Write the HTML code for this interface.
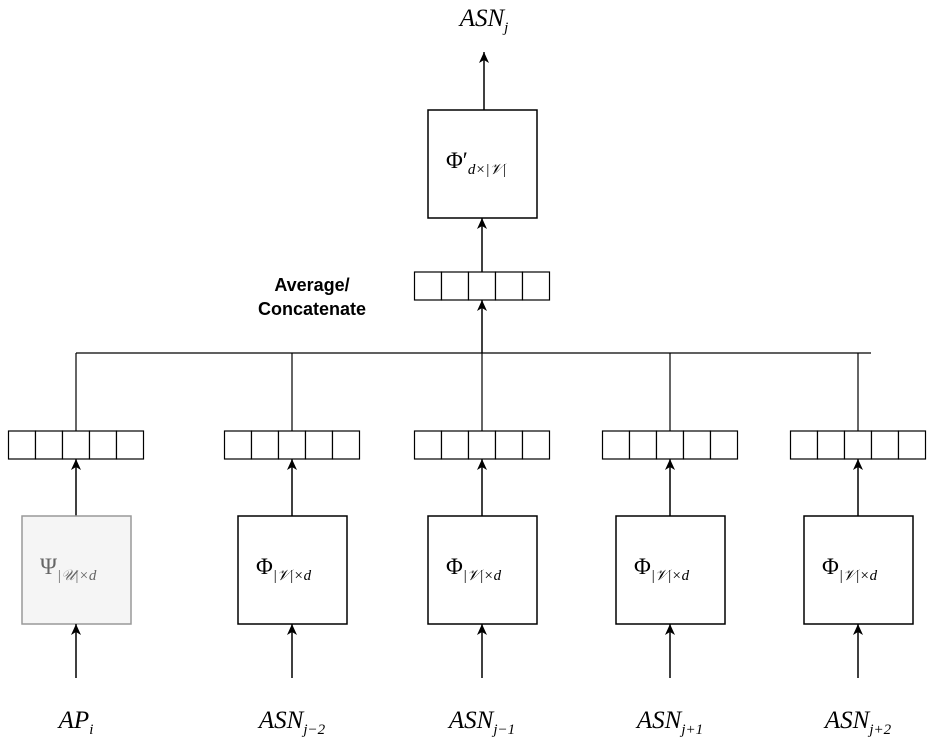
<!DOCTYPE html>
<html><head><meta charset="utf-8"><style>
body{margin:0;background:#fff}
svg{display:block}
.m{font-family:"Liberation Serif",serif;font-style:italic;font-size:25px}
.g{font-family:"Liberation Serif",serif;font-size:23px}
.s{font-family:"Liberation Serif",serif;font-style:italic;font-size:15px}
</style></head><body>
<svg id="d" width="939" height="745" viewBox="0 0 939 745">
<defs><marker id="ah" markerWidth="12" markerHeight="12" refX="11" refY="5" orient="auto" markerUnits="userSpaceOnUse"><path d="M0,0 L11,5 L0,10 L3,5 Z" fill="#000"/></marker></defs>
<text class="m" x="484" y="26" text-anchor="middle">ASN<tspan class="s" dy="6">j</tspan></text>
<line x1="484" y1="110" x2="484" y2="52" stroke="#000" stroke-width="1.5" marker-end="url(#ah)"/>
<rect x="428" y="110" width="109" height="108" fill="#fff" stroke="#000" stroke-width="1.5"/>
<text class="g" x="446" y="168">Φ′<tspan class="s" dy="6">d×|𝒱|</tspan></text>
<line x1="482" y1="272" x2="482" y2="218" stroke="#000" stroke-width="1.5" marker-end="url(#ah)"/>
<text x="312" y="291" text-anchor="middle" font-family="Liberation Sans,sans-serif" font-weight="bold" font-size="18">Average/</text>
<text x="312" y="315" text-anchor="middle" font-family="Liberation Sans,sans-serif" font-weight="bold" font-size="18">Concatenate</text>
<line x1="76" y1="353" x2="871" y2="353" stroke="#000" stroke-width="1.2"/>
<line x1="482" y1="353" x2="482" y2="300" stroke="#000" stroke-width="1.5" marker-end="url(#ah)"/>
<g id="g"></g>
</svg>
<script>
const cols=[76,292,482,670,858];
const labels=[["AP","i"],["ASN","j−2"],["ASN","j−1"],["ASN","j+1"],["ASN","j+2"]];
const ns="http://www.w3.org/2000/svg";
const g=document.getElementById('g');
function mk(t,a){const e=document.createElementNS(ns,t);for(const k in a)e.setAttribute(k,a[k]);g.appendChild(e);return e;}
function vec(cx,y,name){
  const w=27;
  for(let i=0;i<5;i++){
    const r=mk('rect',{x:cx-67.5+i*w,y:y,width:w,height:28,fill:'#fff',stroke:'#000','stroke-width':1.2});
    
    
  }
}
vec(482,272,'combined-vector');
cols.forEach((cx,i)=>{
  const l=mk('line',{x1:cx,y1:353,x2:cx,y2:431,stroke:'#000','stroke-width':1.2});
  
  
  vec(cx,431,'embedding-vector');
  const a=mk('line',{x1:cx,y1:516,x2:cx,y2:459,stroke:'#000','stroke-width':1.5,'marker-end':'url(#ah)'});
  
  
  const b=mk('rect',{x:cx-54,y:516,width:109,height:108,fill:i?'#fff':'#f5f5f5',stroke:i?'#000':'#999','stroke-width':1.5});
  
  
  const t=mk('text',{x:cx-36,y:574,'class':'g',fill:i?'#000':'#666'});
  t.innerHTML=(i?'Φ':'Ψ')+'<tspan class="s" dy="6">'+(i?'|𝒱|×d':'|𝒰|×d')+'</tspan>';
  
  
  const a2=mk('line',{x1:cx,y1:678,x2:cx,y2:624,stroke:'#000','stroke-width':1.5,'marker-end':'url(#ah)'});
  
  
  const tl=mk('text',{x:cx,y:728,'class':'m','text-anchor':'middle'});
  tl.innerHTML=labels[i][0]+'<tspan class="s" dy="6">'+labels[i][1]+'</tspan>';
  
  
});
</script>
</body></html>
